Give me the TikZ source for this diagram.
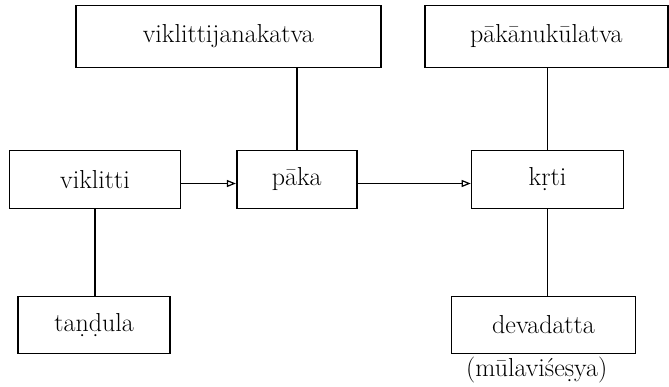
\documentclass[tikz,border=0pt]{standalone}
\usetikzlibrary{arrows.meta}
\begin{document}
\begin{tikzpicture}[x=1pt,y=-1pt,
  box/.style={draw,line width=1.6pt,inner sep=0pt,
    font=\fontsize{26}{30}\selectfont},
  link/.style={line width=1.6pt},
  flow/.style={line width=1.6pt,-{Triangle[open,length=9pt,width=7pt,line width=1.2pt]}}]
\useasboundingbox (0,0) rectangle (669,386);
% upper row
\node[box,minimum width=305pt,minimum height=62pt] (vj) at (228.3,36.3) {viklittijanakatva};
\node[box,minimum width=243pt,minimum height=62pt] (pk) at (546.3,36.3) {p\={a}k\={a}nuk\={u}latva};
% middle row
\node[box,minimum width=171pt,minimum height=58pt] (vk) at (95,179.5) {viklitti};
\node[box,minimum width=120pt,minimum height=58pt] (pa) at (296.7,179.5) {p\={a}ka};
\node[box,minimum width=152pt,minimum height=58pt] (kr) at (547.5,179.5) {k\d{r}ti};
% lower row
\node[box,minimum width=152pt,minimum height=57pt] (ta) at (94.2,325) {ta\d{n}\d{d}ula};
\node[box,minimum width=184pt,minimum height=57pt] (dv) at (543.5,325) {devadatta};
\node[font=\fontsize{26}{30}\selectfont] (ml) at (536.7,370) {(m\={u}lavi\'{s}e\d{s}ya)};
% connectors
\draw[link] (pa.north) -- (pa.north |- vj.south);
\draw[link] (kr.north) -- (kr.north |- pk.south);
\draw[link] (vk.south) -- (vk.south |- ta.north);
\draw[link] (kr.south) -- (kr.south |- dv.north);
\draw[flow] ([yshift=-4pt]vk.east) -- ([yshift=-4pt]pa.west);
\draw[flow] ([yshift=-4pt]pa.east) -- ([yshift=-4pt]kr.west);
\end{tikzpicture}
\end{document}
